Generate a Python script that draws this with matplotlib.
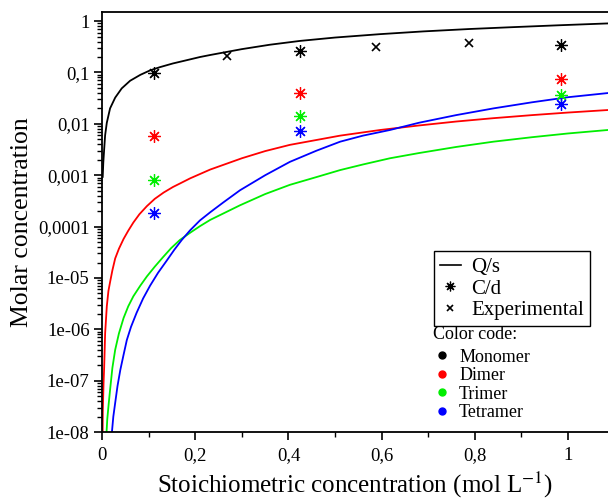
import matplotlib as mpl
mpl.use('Agg')
import matplotlib.pyplot as plt
from matplotlib.lines import Line2D
from matplotlib.ticker import FixedLocator, NullFormatter

plt.rcParams['font.family'] = ['Liberation Serif', 'DejaVu Serif']
plt.rcParams['mathtext.fontset'] = 'stix'

# Q/s curves
x_mono = [0.0012, 0.0025, 0.0043, 0.0064, 0.01, 0.017, 0.028, 0.042, 0.06, 0.082,
          0.103, 0.124, 0.152, 0.175, 0.21, 0.232, 0.3, 0.36, 0.425, 0.5,
          0.597, 0.69, 0.79, 0.88, 0.983, 1.086]
y_mono = [0.00093, 0.00178, 0.00316, 0.006, 0.0105, 0.02, 0.0324, 0.049, 0.069, 0.09,
          0.11, 0.127, 0.15, 0.168, 0.2, 0.219, 0.285, 0.347, 0.412, 0.479,
          0.558, 0.631, 0.703, 0.762, 0.832, 0.902]

x_dimer = [0.001, 0.0014, 0.003, 0.0043, 0.0064, 0.01, 0.0135, 0.017, 0.022, 0.028,
           0.036, 0.046, 0.056, 0.067, 0.08, 0.096, 0.113, 0.132, 0.152, 0.167,
           0.189, 0.232, 0.3, 0.35, 0.403, 0.511, 0.597, 0.68, 0.76, 0.84,
           0.923, 1.0, 1.086]
y_dimer = [1e-8, 2.5e-8, 8.9e-8, 1.78e-7, 8.3e-7, 2.8e-6, 5.6e-6, 8.3e-6, 1.41e-5, 2.4e-5,
           3.7e-5, 5.75e-5, 8.3e-5, 1.2e-4, 1.74e-4, 2.5e-4, 3.47e-4, 4.6e-4, 5.9e-4, 6.9e-4,
           8.7e-4, 1.29e-3, 2.14e-3, 2.95e-3, 3.9e-3, 5.9e-3, 7.6e-3, 9.3e-3, 0.0111, 0.0129,
           0.0148, 0.0166, 0.0186]

x_trimer = [0.0095, 0.011, 0.014, 0.017, 0.022, 0.028, 0.036, 0.046, 0.056, 0.067,
            0.082, 0.096, 0.113, 0.13, 0.148, 0.167, 0.189, 0.21, 0.232, 0.296,
            0.35, 0.403, 0.46, 0.511, 0.56, 0.618, 0.68, 0.76, 0.84, 0.923,
            1.0, 1.086]
y_trimer = [1e-8, 1.78e-8, 3.5e-8, 6.6e-8, 1.78e-7, 4.0e-7, 8.3e-7, 1.66e-6, 2.8e-6, 4.4e-6,
            7.1e-6, 1.07e-5, 1.66e-5, 2.5e-5, 3.8e-5, 5.5e-5, 7.6e-5, 1.02e-4, 1.35e-4, 2.6e-4,
            4.3e-4, 6.5e-4, 9.2e-4, 1.26e-3, 1.62e-3, 2.14e-3, 2.7e-3, 3.55e-3, 4.5e-3, 5.5e-3,
            6.5e-3, 7.6e-3]

x_tetramer = [0.021, 0.024, 0.028, 0.033, 0.039, 0.046, 0.053, 0.062, 0.074, 0.088,
              0.103, 0.12, 0.139, 0.155, 0.171, 0.189, 0.21, 0.232, 0.26, 0.296,
              0.35, 0.403, 0.46, 0.511, 0.56, 0.618, 0.68, 0.76, 0.84, 0.923,
              1.0, 1.086]
y_tetramer = [1e-8, 2.0e-8, 3.7e-8, 7.9e-8, 1.62e-7, 3.2e-7, 6.2e-7, 1.12e-6, 2.1e-6, 4.0e-6,
              7.1e-6, 1.26e-5, 2.2e-5, 3.55e-5, 5.5e-5, 8.5e-5, 1.32e-4, 1.9e-4, 2.95e-4, 5.1e-4,
              1.0e-3, 1.82e-3, 3.0e-3, 4.5e-3, 5.9e-3, 7.6e-3, 0.0105, 0.0148, 0.02, 0.0263,
              0.033, 0.0398]

# C/d points
x_cd = [0.111, 0.425, 0.985]
mono_cd = [0.096, 0.26, 0.34]
dimer_cd = [0.0058, 0.039, 0.074]
trimer_cd = [0.00081, 0.014, 0.036]
tetramer_cd = [0.00018, 0.0071, 0.0245]

# experimental points
x_exp = [0.268, 0.588, 0.788]
y_exp = [0.21, 0.31, 0.37]

species = ['Monomer', 'Dimer', 'Trimer', 'Tetramer']
colors = ['#000000', '#ff0000', '#00ee00', '#0000ff']

x_ticks = [0, 0.2, 0.4, 0.6, 0.8, 1]
x_ticklabels = ['0', '0,2', '0,4', '0,6', '0,8', '1']
y_ticks = [1e-8, 1e-7, 1e-6, 1e-5, 1e-4, 1e-3, 1e-2, 1e-1, 1]
y_ticklabels = ['1e-08', '1e-07', '1e-06', '1e-05', '0,0001', '0,001', '0,01', '0,1', '1']

fig = plt.figure(figsize=(6.08, 5.03), dpi=100)
ax = fig.add_axes([0.168, 0.141, 0.832, 0.835])

curves = [(x_mono, y_mono), (x_dimer, y_dimer), (x_trimer, y_trimer), (x_tetramer, y_tetramer)]
for (xs, ys), c in zip(curves, colors):
    ax.plot(xs, ys, color=c, lw=1.3)

star = (8, 2, 0)
for ys, c in zip([mono_cd, dimer_cd, trimer_cd, tetramer_cd], colors):
    ax.plot(x_cd, ys, ls='none', marker=star, ms=9, mew=0.9, color=c)
ax.plot(x_exp, y_exp, ls='none', marker='x', ms=6, mew=1.2, color='black')

ax.set_yscale('log')
ax.set_xlim(0, 1.086)
ax.set_ylim(1e-8, 1.5)

ax.set_xticks(x_ticks)
ax.set_xticklabels(x_ticklabels)
ax.xaxis.set_minor_locator(FixedLocator([0.1, 0.3, 0.5, 0.7, 0.9]))
ax.set_yticks(y_ticks)
ax.set_yticklabels(y_ticklabels)
minors = [m * 10.0 ** e for e in range(-8, 1) for m in range(2, 10)]
ax.yaxis.set_minor_locator(FixedLocator(minors))
ax.yaxis.set_minor_formatter(NullFormatter())
ax.tick_params(which='major', direction='out', length=6, width=1.2, labelsize=13.5, pad=3)
ax.tick_params(axis='x', which='major', pad=5)
ax.tick_params(which='minor', direction='out', length=3.5, width=1.0)
ax.spines['right'].set_visible(False)
for s in ['left', 'bottom', 'top']:
    ax.spines[s].set_linewidth(1.3)

ax.set_xlabel('Stoichiometric concentration (mol L$^{-1}$)', fontsize=18, labelpad=4)
ax.set_ylabel('Molar concentration', fontsize=18.5)
ax.yaxis.set_label_coords(-0.136, 0.5)

handles = [Line2D([], [], color='black', lw=1.2),
           Line2D([], [], ls='none', marker=star, ms=7, mew=0.9, color='black'),
           Line2D([], [], ls='none', marker='x', ms=5, mew=1.2, color='black')]
leg = ax.legend(handles, ['Q/s', 'C/d', 'Experimental'], loc='upper left',
                bbox_to_anchor=(0.656, 0.43), fontsize=15, frameon=True, fancybox=False,
                edgecolor='black', framealpha=1, handlelength=1.0, handletextpad=0.5,
                labelspacing=0.1, borderpad=0.28, borderaxespad=0)
leg.get_frame().set_linewidth(1.0)
ax.add_artist(leg)

dots = [Line2D([], [], ls='none', marker='o', ms=5, color=c) for c in colors]
leg2 = ax.legend(dots, species, loc='upper left', bbox_to_anchor=(0.654, 0.252),
                 fontsize=13, frameon=False, title='Color code:', title_fontsize=13,
                 alignment='left', handlelength=1.0, handletextpad=0.45,
                 labelspacing=0.08, borderpad=0.0, borderaxespad=0)
leg2._legend_box.sep = 4

fig.savefig('out.png', dpi=100)
